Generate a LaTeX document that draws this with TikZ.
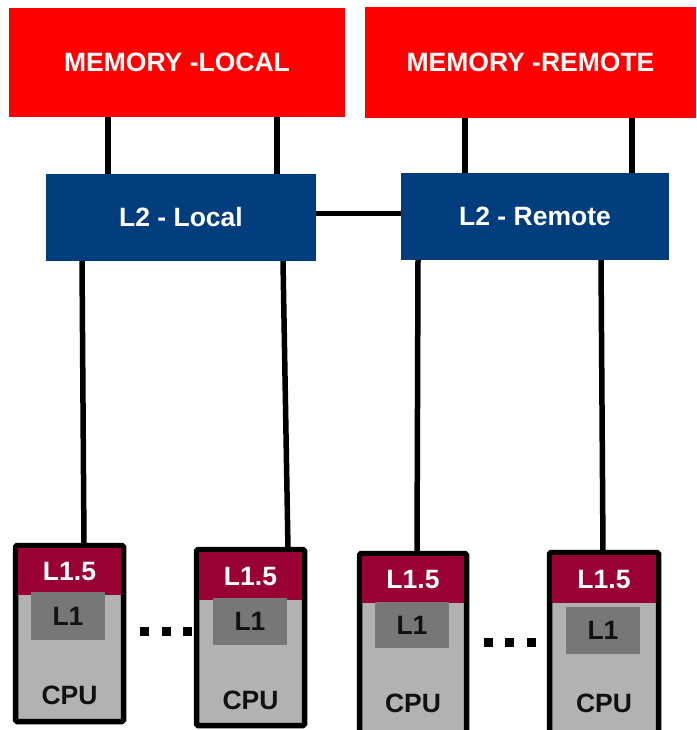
\documentclass[tikz,border=0pt]{standalone}
\usepackage{fontspec}
\setmainfont{Liberation Sans}
\definecolor{memred}{HTML}{FF0000}
\definecolor{ltwo}{HTML}{023E7D}
\definecolor{lonefive}{HTML}{990033}
\definecolor{cpugray}{HTML}{B2B2B2}
\definecolor{lonegray}{HTML}{777777}
\definecolor{txtdark}{HTML}{111111}
\begin{document}
\begin{tikzpicture}[x=1pt,y=-1pt,
  box/.style={rectangle,inner sep=0pt,outer sep=0pt,anchor=north west,
    font=\fontsize{26.5}{30}\selectfont\bfseries},
  membox/.style={box,fill=memred,text=white},
  ltwobox/.style={box,fill=ltwo,text=white},
  cpubox/.style={box,fill=cpugray,draw=black,line width=5.5pt,rounded corners=1.5pt},
  lonefivebox/.style={box,fill=lonefive,text=white},
  lonebox/.style={box,fill=lonegray,text=txtdark},
  cputext/.style={inner sep=0pt,text=txtdark,font=\fontsize{26.5}{30}\selectfont\bfseries},
  wire/.style={draw=black,line width=5.5pt},
  dotsq/.style={rectangle,fill=black,inner sep=0pt,minimum width=9pt,minimum height=9pt}
]
\useasboundingbox (0,0) rectangle (696,730);
\clip (0,0) rectangle (696,730);

% memories
\node[membox,minimum width=336pt,minimum height=109pt] (ml) at (9,8) {MEMORY -LOCAL};
\node[membox,minimum width=331pt,minimum height=111pt] (mr) at (365,7) {MEMORY -REMOTE};

% L2 caches
\node[ltwobox,minimum width=270pt,minimum height=87pt] (l2l) at (46,174) {L2 - Local};
\node[ltwobox,minimum width=268pt,minimum height=87pt] (l2r) at (401,173) {L2 - Remote};

% memory to L2 wires
\draw[wire] ([xshift=99pt]ml.south west) -- ([xshift=99pt]ml.south west |- l2l.north);
\draw[wire] ([xshift=268pt]ml.south west) -- ([xshift=268pt]ml.south west |- l2l.north);
\draw[wire] ([xshift=100pt]mr.south west) -- ([xshift=100pt]mr.south west |- l2r.north);
\draw[wire] ([xshift=267pt]mr.south west) -- ([xshift=267pt]mr.south west |- l2r.north);
\draw[wire] ([yshift=4pt]l2l.east) -- ([yshift=4pt]l2l.east -| l2r.west);

% CPU boxes
\node[cpubox,minimum width=108pt,minimum height=176pt] (cpu1) at (15.5,545.5) {};
\node[cpubox,minimum width=108pt,minimum height=176pt] (cpu2) at (196.5,549.5) {};
\node[cpubox,minimum width=107pt,minimum height=190pt] (cpu3) at (359.5,553.5) {};
\node[cpubox,minimum width=109pt,minimum height=190pt] (cpu4) at (549.5,552.5) {};

% L1.5 regions
\node[lonefivebox,minimum width=102.5pt,minimum height=47pt] (c1a) at (18.25,548.25) {L1.5};
\node[lonefivebox,minimum width=102.5pt,minimum height=48pt] (c2a) at (199.25,552.25) {L1.5};
\node[lonefivebox,minimum width=101.5pt,minimum height=47pt] (c3a) at (362.25,556.25) {L1.5};
\node[lonefivebox,minimum width=103.5pt,minimum height=48pt] (c4a) at (552.25,555.25) {L1.5};

% L1 boxes
\node[lonebox,minimum width=74pt,minimum height=48pt] (c1b) at (31,592) {L1};
\node[lonebox,minimum width=74pt,minimum height=47pt] (c2b) at (213,598) {L1};
\node[lonebox,minimum width=74pt,minimum height=46pt] (c3b) at (375,602) {L1};
\node[lonebox,minimum width=74pt,minimum height=47pt] (c4b) at (566,607) {L1};

% CPU labels
\node[cputext] (c1c) at ([yshift=-149.5pt]cpu1.north) {CPU};
\node[cputext] (c2c) at ([yshift=-150.5pt]cpu2.north) {CPU};
\node[cputext] (c3c) at ([yshift=-149.5pt]cpu3.north) {CPU};
\node[cputext] (c4c) at ([yshift=-150.5pt]cpu4.north) {CPU};

% L2 to CPU wires
\draw[wire] ([xshift=36pt]l2l.south west) -- ([xshift=68.5pt]cpu1.north west);
\draw[wire] ([xshift=237pt]l2l.south west) -- ([xshift=91.5pt]cpu2.north west);
\draw[wire] ([xshift=17pt]l2r.south west) -- ([xshift=57.5pt]cpu3.north west);
\draw[wire] ([xshift=200pt]l2r.south west) -- ([xshift=53.5pt]cpu4.north west);

% ellipsis dots
\node[dotsq] (d1) at (144.5,631.5) {};
\node[dotsq] (d2) at (166.5,631.5) {};
\node[dotsq] (d3) at (187.5,631.5) {};
\node[dotsq] (d4) at (488.5,642.5) {};
\node[dotsq] (d5) at (509.5,642.5) {};
\node[dotsq] (d6) at (531.5,642.5) {};
\end{tikzpicture}
\end{document}
